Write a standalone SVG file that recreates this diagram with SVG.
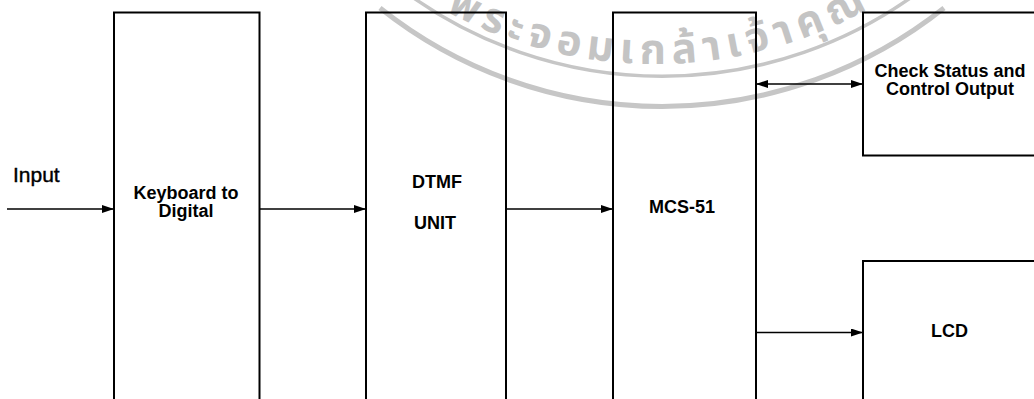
<svg xmlns="http://www.w3.org/2000/svg" width="1034" height="399" viewBox="0 0 1034 399">
  <style>
    .box { fill: none; stroke: #000; stroke-width: 2; }
    .lbl { font-family: "Liberation Sans", Arial, sans-serif; font-weight: bold; font-size: 18px; fill: #000; text-anchor: middle; }
    .in { font-family: "Liberation Sans", Arial, sans-serif; font-size: 21px; fill: #000; stroke: #000; stroke-width: 0.4; }
    .conn { fill: none; stroke: #000; stroke-width: 1.6; }
    .wm { fill: none; stroke: #c6c6c6; }
    .wmt { font-family: "Noto Sans Thai", "Noto Sans", "DejaVu Sans", sans-serif; font-size: 42px; font-weight: bold; fill: #c4c4c4; letter-spacing: 6.5px; }
  </style>
  <defs>
    <marker id="arr" viewBox="0 0 12 8" refX="12" refY="4" markerWidth="12" markerHeight="8" markerUnits="userSpaceOnUse" orient="auto-start-reverse">
      <path d="M0,0 L12,4 L0,8 Z" fill="#000"/>
    </marker>
    <path id="wmpath" d="M 370 -40.8 A 440 440 0 0 0 940 -40.8"/>
  </defs>
  <rect width="1034" height="399" fill="#fff"/>

  <g id="watermark">
    <path class="wm" stroke-width="5" d="M 380 8 A 453 453 0 0 0 944 8"/>
    <path class="wm" stroke-width="3.5" d="M 400 -12 A 433 433 0 0 0 924 -12"/>
    <text class="wmt"><textPath href="#wmpath" startOffset="92">พระจอมเกล้าเจ้าคุณ</textPath></text>
  </g>

  <g id="connectors">
    <line class="conn" x1="7" y1="209" x2="114" y2="209" marker-end="url(#arr)"/>
    <line class="conn" x1="260" y1="209" x2="366" y2="209" marker-end="url(#arr)"/>
    <line class="conn" x1="506" y1="209" x2="613" y2="209" marker-end="url(#arr)"/>
    <line class="conn" x1="756" y1="84" x2="863" y2="84" marker-start="url(#arr)" marker-end="url(#arr)"/>
    <line class="conn" x1="756" y1="332.5" x2="863" y2="332.5" marker-end="url(#arr)"/>
  </g>

  <g id="input-label">
    <text class="in" x="13" y="181.5">Input</text>
  </g>

  <g id="keyboard">
    <rect class="box" x="114" y="12.5" width="145.5" height="400"/>
    <text class="lbl" x="186" y="199">Keyboard to</text>
    <text class="lbl" x="186" y="217">Digital</text>
  </g>

  <g id="dtmf">
    <rect class="box" x="366" y="12.5" width="140" height="400"/>
    <text class="lbl" x="437" y="188">DTMF</text>
    <text class="lbl" x="435" y="229">UNIT</text>
  </g>

  <g id="mcs51">
    <rect class="box" x="613" y="12.5" width="143" height="400"/>
    <text class="lbl" x="682" y="213">MCS-51</text>
  </g>

  <g id="check-status">
    <rect class="box" x="863" y="12.5" width="200" height="143"/>
    <text class="lbl" x="950" y="77">Check Status and</text>
    <text class="lbl" x="950" y="95">Control Output</text>
  </g>

  <g id="lcd">
    <rect class="box" x="863" y="261" width="200" height="160"/>
    <text class="lbl" x="949.5" y="337">LCD</text>
  </g>
</svg>
